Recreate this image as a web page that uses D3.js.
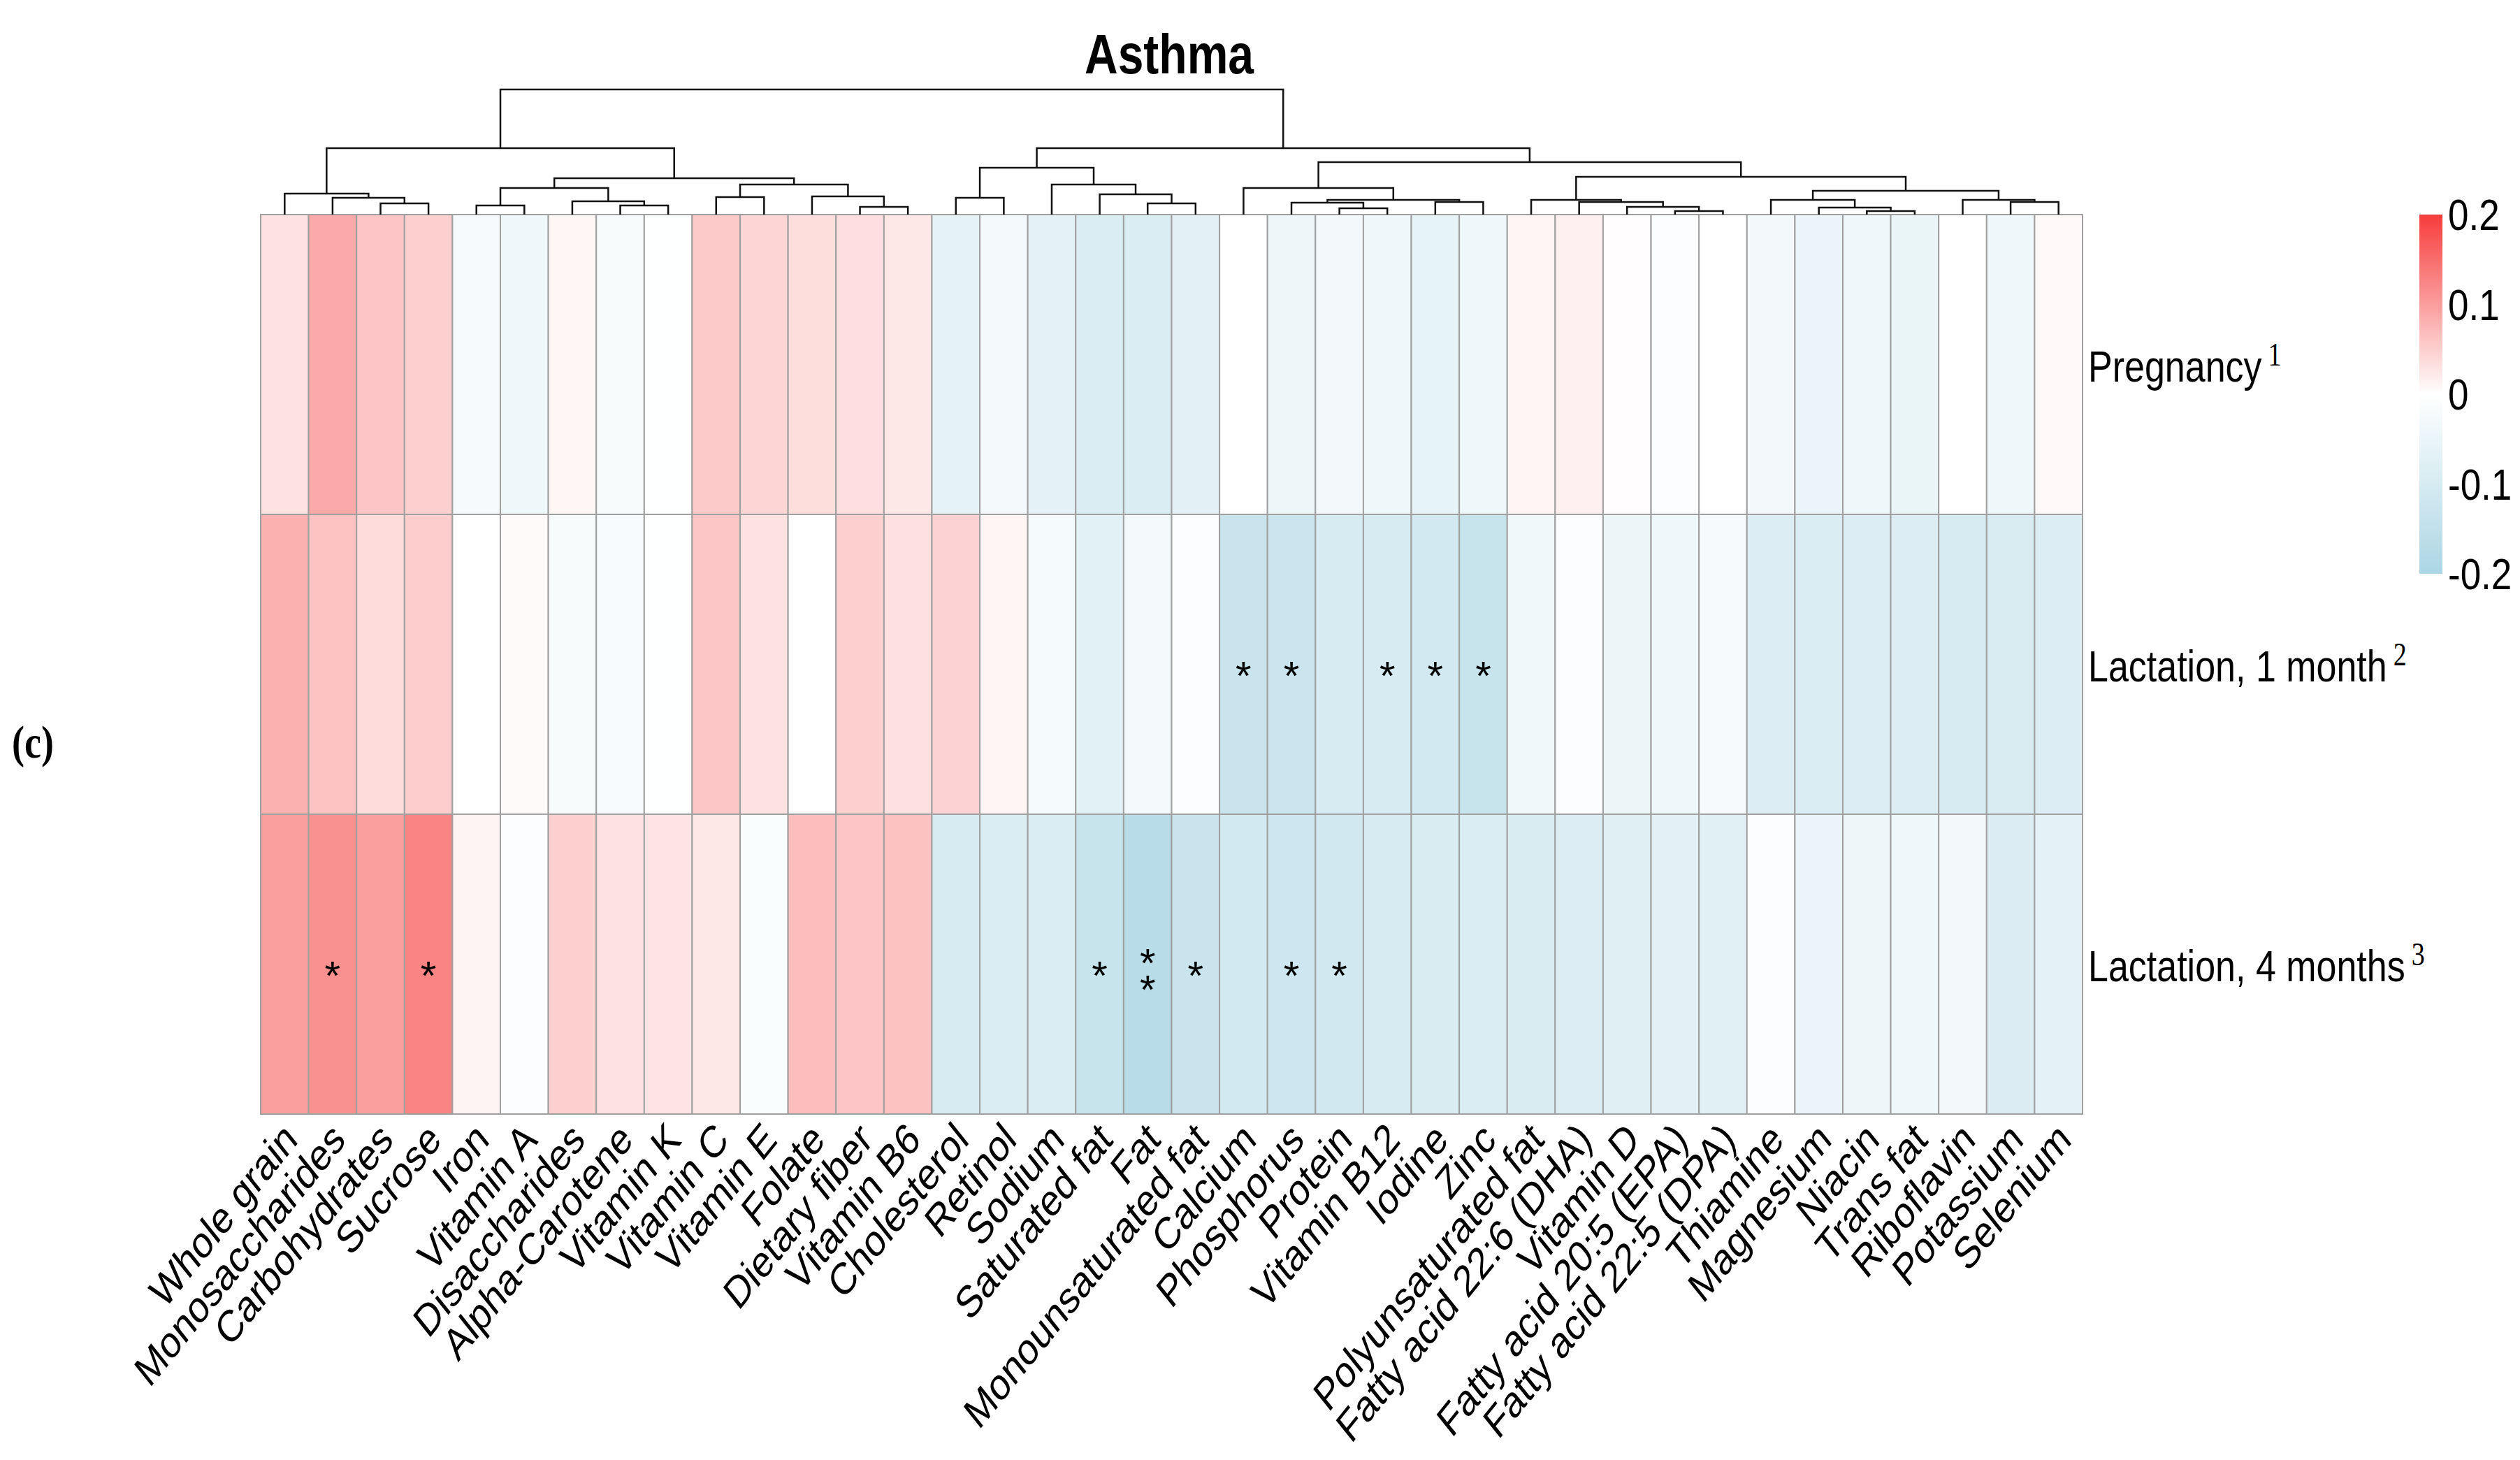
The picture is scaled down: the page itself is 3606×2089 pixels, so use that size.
<!DOCTYPE html>
<html>
<head>
<meta charset="utf-8">
<script src="https://cdn.jsdelivr.net/npm/d3@7"></script>
<style>
  body { margin: 0; background: #fff; }
  text { font-family: "Liberation Sans", Arial, sans-serif; fill: #000; }
</style>
</head>
<body>
<svg id="chart" width="3606" height="2089"></svg>
<script>
// nutrients in the clustered column order
var nutrients = ['Whole grain', 'Monosaccharides', 'Carbohydrates', 'Sucrose', 'Iron', 'Vitamin A',
  'Disaccharides', 'Alpha-Carotene', 'Vitamin K', 'Vitamin C', 'Vitamin E', 'Folate', 'Dietary fiber',
  'Vitamin B6', 'Cholesterol', 'Retinol', 'Sodium', 'Saturated fat', 'Fat', 'Monounsaturated fat',
  'Calcium', 'Phosphorus', 'Protein', 'Vitamin B12', 'Iodine', 'Zinc', 'Polyunsaturated fat',
  'Fatty acid 22:6 (DHA)', 'Vitamin D', 'Fatty acid 20:5 (EPA)', 'Fatty acid 22:5 (DPA)', 'Thiamine',
  'Magnesium', 'Niacin', 'Trans fat', 'Riboflavin', 'Potassium', 'Selenium'];

var periods = ['Pregnancy', 'Lactation, 1 month', 'Lactation, 4 months'];
var periodNotes = ['1', '2', '3'];

var pregnancy = [0.03, 0.088, 0.06, 0.048, -0.022, -0.04, 0.009, -0.02, -0.002, 0.054, 0.043, 0.035,
  0.034, 0.025, -0.063, -0.027, -0.066, -0.09, -0.088, -0.068, 0, -0.044, -0.028, -0.04, -0.06, -0.04,
  0.01, 0.015, 0.002, -0.01, -0.001, -0.03, -0.048, -0.04, -0.05, 0, -0.04, 0.006];
var lactation1 = [0.08, 0.062, 0.036, 0.052, 0, 0.005, -0.02, -0.018, -0.002, 0.058, 0.03, 0, 0.048,
  0.032, 0.046, 0.01, -0.025, -0.07, -0.027, -0.01, -0.13, -0.125, -0.1, -0.1, -0.105, -0.134, -0.035,
  -0.008, -0.045, -0.04, -0.022, -0.085, -0.088, -0.085, -0.085, -0.1, -0.093, -0.085];
var lactation4 = [0.1, 0.113, 0.1, 0.127, 0.011, -0.01, 0.048, 0.03, 0.028, 0.025, -0.012, 0.068, 0.06,
  0.063, -0.098, -0.09, -0.088, -0.134, -0.168, -0.13, -0.105, -0.12, -0.11, -0.097, -0.093, -0.09,
  -0.095, -0.085, -0.078, -0.068, -0.072, -0.008, -0.048, -0.043, -0.04, -0.03, -0.087, -0.065];

// significance marks per period
var sigLactation1 = ['Calcium', 'Phosphorus', 'Vitamin B12', 'Iodine', 'Zinc'];
var sigLactation4 = ['Monosaccharides', 'Sucrose', 'Saturated fat', 'Fat', 'Monounsaturated fat', 'Phosphorus', 'Protein'];
var sigLactation4Stars = [1, 1, 1, 2, 1, 1, 1];

var legendTicks = [0.2, 0.1, 0, -0.1, -0.2];
var legendLabels = ['0.2', '0.1', '0', '-0.1', '-0.2'];

// column dendrogram: [merge height, left, right], leaves are column indexes
var tree = [179,
  [95,
    [30, 0, [24, 1, [16, 2, 3]]],
    [52,
      [38, [13, 4, 5], [19, 6, [13, 7, 8]]],
      [43, [25, 9, 10], [26, 11, [11, 12, 13]]]]],
  [95,
    [67, [24, 14, 15], [43, 16, [29, 17, [16, 18, 19]]]],
    [75,
      [38, 20, [21, [17, 21, [9, 22, 23]], [18, 24, 25]]],
      [54,
        [21, 26, [18, 27, [11, 28, [5, 29, 30]]]],
        [34, [21, 31, [10, 32, [5, 33, 34]]], [21, 35, [18, 36, 37]]]]]]];

var rows = [pregnancy, lactation1, lactation4];

var svg = d3.select('#chart');
var stretch = 1.2;

var x = d3.scaleBand().domain(nutrients).range([373, 2980]);
var y = d3.scaleBand().domain(periods).range([307, 1594]);
var h = d3.scaleLinear().domain([0, 179]).range([307, 128]);
var color = d3.scaleLinear().domain([-0.2, 0, 0.2]).range(['#acd6e4', '#ffffff', '#f73c3c']);

// cells
var cells = [];
rows.forEach(function (vals, r) {
  vals.forEach(function (v, c) {
    cells.push({ period: periods[r], nutrient: nutrients[c], value: v });
  });
});

svg.append('g')
  .selectAll('rect')
  .data(cells)
  .join('rect')
  .attr('x', function (d) { return x(d.nutrient); })
  .attr('y', function (d) { return y(d.period); })
  .attr('width', x.bandwidth())
  .attr('height', y.bandwidth())
  .attr('fill', function (d) { return color(d.value); })
  .attr('stroke', '#a0a0a0')
  .attr('stroke-width', 2);

// asterisks (a double mark is two stacked stars in one text)
var marks = [];
sigLactation1.forEach(function (n) { marks.push({ period: periods[1], nutrient: n, n: 1 }); });
sigLactation4.forEach(function (n, i) { marks.push({ period: periods[2], nutrient: n, n: sigLactation4Stars[i] }); });

var stars = svg.append('g')
  .selectAll('text')
  .data(marks)
  .join('text')
  .attr('text-anchor', 'middle')
  .style('font-size', '58px');

stars.each(function (d) {
  var cx = x(d.nutrient) + x.bandwidth() / 2;
  var cy = y(d.period) + y.bandwidth() / 2 + 36;
  var t = d3.select(this);
  if (d.n === 1) {
    t.append('tspan').attr('x', cx).attr('y', cy).text('*');
  } else {
    t.append('tspan').attr('x', cx).attr('y', cy - 18).text('*');
    t.append('tspan').attr('x', cx).attr('y', cy + 20).text('*');
  }
});

// dendrogram
var dendro = svg.append('g')
  .attr('fill', 'none')
  .attr('stroke', '#111')
  .attr('stroke-width', 2.5);

function drawNode(node) {
  if (typeof node === 'number') {
    return { x: x(nutrients[node]) + x.bandwidth() / 2, h: 0 };
  }
  var a = drawNode(node[1]);
  var b = drawNode(node[2]);
  var p = d3.path();
  p.moveTo(a.x, h(a.h));
  p.lineTo(a.x, h(node[0]));
  p.lineTo(b.x, h(node[0]));
  p.lineTo(b.x, h(b.h));
  dendro.append('path').attr('d', p.toString());
  return { x: (a.x + b.x) / 2, h: node[0] };
}
drawNode(tree);

// column labels
svg.append('g')
  .selectAll('text')
  .data(nutrients)
  .join('text')
  .attr('transform', function (d) {
    return 'translate(' + (x(d) + x.bandwidth() / 2 + 8) + ',1618) scale(1,1.25) rotate(-45)';
  })
  .attr('text-anchor', 'end')
  .attr('dy', '0.35em')
  .style('font-size', '51px')
  .text(function (d) { return d; });

// row labels with footnote marks
var rowLab = svg.append('g')
  .selectAll('text')
  .data(periods)
  .join('text')
  .attr('transform', function (d) {
    return 'translate(2988,' + (y(d) + y.bandwidth() / 2 + 24) + ') scale(1,' + stretch + ')';
  })
  .style('font-size', '52px');
rowLab.append('tspan').text(function (d) { return d; });
rowLab.append('tspan')
  .attr('dx', 9)
  .attr('dy', -19)
  .style('font-family', '"Liberation Serif", serif')
  .style('font-size', '38px')
  .text(function (d, i) { return periodNotes[i]; });

// title
svg.append('text')
  .attr('transform', 'translate(1673,105) scale(1,1.22)')
  .attr('text-anchor', 'middle')
  .style('font-size', '66px')
  .style('font-weight', 'bold')
  .text('Asthma');

// panel letter
svg.append('text')
  .attr('transform', 'translate(17,1084) scale(1,' + stretch + ')')
  .style('font-family', '"Liberation Serif", serif')
  .style('font-weight', 'bold')
  .style('font-size', '54px')
  .text('(c)');

// colour legend
var ly = d3.scaleLinear().domain([0.2, -0.2]).range([307, 821]);
var grad = svg.append('defs').append('linearGradient')
  .attr('id', 'lg').attr('x1', 0).attr('x2', 0).attr('y1', 0).attr('y2', 1);
grad.selectAll('stop')
  .data(d3.range(0, 1.0001, 0.05))
  .join('stop')
  .attr('offset', function (t) { return t; })
  .attr('stop-color', function (t) { return color(ly.invert(307 + t * 514)); });

svg.append('rect')
  .attr('x', 3462).attr('y', ly(0.2))
  .attr('width', 33).attr('height', ly(-0.2) - ly(0.2))
  .attr('fill', 'url(#lg)');

svg.append('g')
  .selectAll('text')
  .data(legendTicks)
  .join('text')
  .attr('transform', function (d) { return 'translate(3503,' + (ly(d) + 22) + ') scale(1,' + stretch + ')'; })
  .style('font-size', '53px')
  .text(function (d, i) { return legendLabels[i]; });
</script>
</body>
</html>
